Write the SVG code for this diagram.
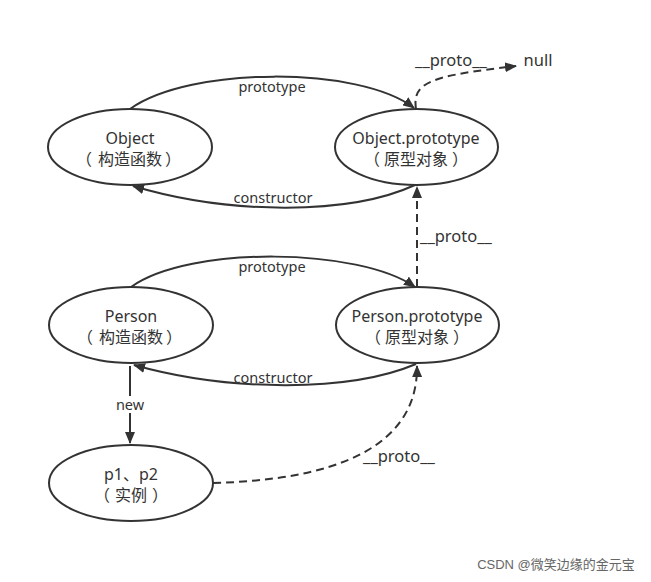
<svg xmlns="http://www.w3.org/2000/svg" width="651" height="582" viewBox="0 0 651 582">
<defs>
<marker id="arr" viewBox="0 0 12 10" refX="11" refY="5" markerWidth="12" markerHeight="10" markerUnits="userSpaceOnUse" orient="auto">
<path d="M0,0 L12,5 L0,10 Z" fill="#333"/>
</marker>
<style>
.node ellipse{fill:#fff;stroke:#333;stroke-width:2}
.t{font-family:"Noto Sans","Noto Sans CJK SC",sans-serif;fill:#333;text-anchor:middle}
.n{font-size:16px}
.e{font-size:14.5px}
.p{font-size:16.5px}
.c path{fill:none;stroke:#333;stroke-width:2;marker-end:url(#arr)}
.c .d{stroke-dasharray:8 5}
</style>
</defs>
<rect width="651" height="582" fill="#fff"/>
<g class="c" id="connectors">
<path d="M130,109 C190,66 360,66 414,108"/>
<path d="M415,185 C350,215 230,215 133,186"/>
<path class="d" d="M416,109 C412,82 430,76 516,66"/>
<path class="d" d="M417,287 L417,187"/>
<path d="M131,287 C190,245 360,248 415,287"/>
<path d="M416,364 C350,392 230,392 134,365"/>
<path d="M130,366 L130,443"/>
<path class="d" d="M213,483 C330,480 418,450 417,366"/>
</g>
<g id="labels">
<rect x="113" y="396" width="34" height="17" fill="#fff"/>
<text class="t e" x="272" y="92">prototype</text>
<text class="t e" x="273" y="203">constructor</text>
<text class="t p" x="451" y="66">__proto__</text>
<text class="t p" x="538" y="66">null</text>
<text class="t p" x="456" y="242">__proto__</text>
<text class="t e" x="272" y="272">prototype</text>
<text class="t e" x="273" y="383">constructor</text>
<text class="t e" x="130" y="410">new</text>
<text class="t p" x="399" y="462">__proto__</text>
</g>
<g class="node" id="n-object">
<ellipse cx="130" cy="147" rx="82" ry="38"/>
<text class="t n" x="130" y="144">Object</text>
<text class="t n" y="165"><tspan x="84">（</tspan><tspan x="130">构造函数</tspan><tspan x="173">）</tspan></text>
</g>
<g class="node" id="n-objproto">
<ellipse cx="416.5" cy="147" rx="81.5" ry="38"/>
<text class="t n" x="416" y="144">Object.prototype</text>
<text class="t n" y="165"><tspan x="372">（</tspan><tspan x="416">原型对象</tspan><tspan x="460">）</tspan></text>
</g>
<g class="node" id="n-person">
<ellipse cx="131" cy="325" rx="82" ry="38"/>
<text class="t n" x="131" y="322">Person</text>
<text class="t n" y="343"><tspan x="85">（</tspan><tspan x="131">构造函数</tspan><tspan x="174">）</tspan></text>
</g>
<g class="node" id="n-personproto">
<ellipse cx="417.5" cy="325" rx="81.5" ry="38"/>
<text class="t n" x="417" y="322">Person.prototype</text>
<text class="t n" y="343"><tspan x="373">（</tspan><tspan x="417">原型对象</tspan><tspan x="461">）</tspan></text>
</g>
<g class="node" id="n-p1p2">
<ellipse cx="131" cy="483" rx="82" ry="38"/>
<text class="t n" x="131" y="480">p1、p2</text>
<text class="t n" y="501"><tspan x="102">（</tspan><tspan x="131">实例</tspan><tspan x="160">）</tspan></text>
</g>
<text x="556" y="569" font-family="'Liberation Sans','Noto Sans CJK SC',sans-serif" font-size="13" fill="#666" text-anchor="middle">CSDN @微笑边缘的金元宝</text>
</svg>
